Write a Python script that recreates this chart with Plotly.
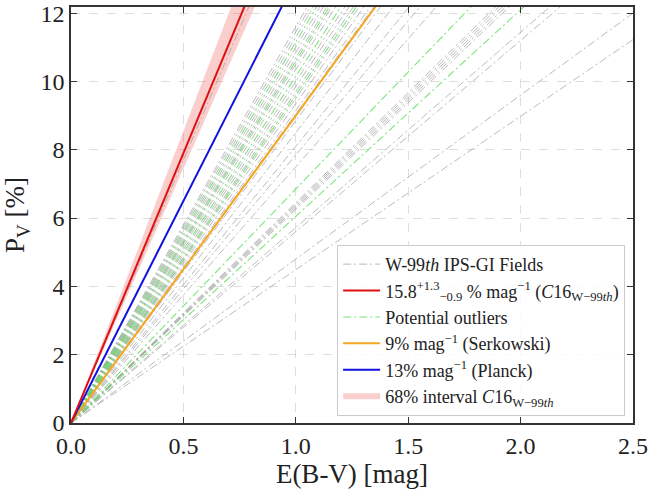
import plotly.graph_objects as go

# ---- data (slopes in % per mag) ----
field_slopes = [15.4, 11.6, 11.45, 11.3, 11.0, 10.85, 10.7, 10.5, 10.35, 10.0, 9.85, 9.7,
                9.5, 9.35, 9.15, 9.05, 8.85, 8.5, 8.1, 7.85, 7.5, 6.45, 6.4, 6.35, 6.3,
                6.25, 5.72, 5.6, 4.8, 4.49]
outlier_slopes = [11.15, 10.6, 10.15, 9.6, 6.85, 6.05]
c16_slope = 15.8
c16_lo = 14.9
c16_hi = 17.1
serkowski_slope = 9.0
planck_slope = 13.0
x_ends = [0.0, 2.5]
x_ticks = [0.0, 0.5, 1.0, 1.5, 2.0, 2.5]
y_ticks = [0, 2, 4, 6, 8, 10, 12]

FONT = "Liberation Serif, 'Times New Roman', 'DejaVu Serif', serif"
fig = go.Figure()

# 68% band
fig.add_trace(go.Scatter(
    x=[x_ends[0], x_ends[1], x_ends[1], x_ends[0]],
    y=[0, c16_hi * x_ends[1], c16_lo * x_ends[1], 0],
    fill="toself", fillcolor="rgba(240,80,80,0.28)", line=dict(width=0),
    mode="none", name="68% interval <i>C</i>16<sub>W−99<i>th</i></sub>", legendrank=6,
    hoverinfo="skip"))

for i, s in enumerate(field_slopes):
    fig.add_trace(go.Scatter(
        x=x_ends, y=[s * x for x in x_ends], mode="lines",
        line=dict(color="rgba(150,150,150,0.65)", width=1, dash="8px,3px,2px,3px"),
        name="W-99<i>th</i> IPS-GI Fields", legendgroup="fields",
        showlegend=(i == 0), legendrank=1))

for i, s in enumerate(outlier_slopes):
    fig.add_trace(go.Scatter(
        x=x_ends, y=[s * x for x in x_ends], mode="lines",
        line=dict(color="rgba(100,225,100,0.85)", width=1.1, dash="8px,3px,2px,3px"),
        name="Potential outliers", legendgroup="outliers",
        showlegend=(i == 0), legendrank=3))

fig.add_trace(go.Scatter(
    x=x_ends, y=[serkowski_slope * x for x in x_ends], mode="lines",
    line=dict(color="#f5a623", width=2),
    name="9% mag<sup>−1</sup> (Serkowski)", legendrank=4))
fig.add_trace(go.Scatter(
    x=x_ends, y=[planck_slope * x for x in x_ends], mode="lines",
    line=dict(color="#1010e0", width=2),
    name="13% mag<sup>−1</sup> (Planck)", legendrank=5))
fig.add_trace(go.Scatter(
    x=x_ends, y=[c16_slope * x for x in x_ends], mode="lines",
    line=dict(color="#e01010", width=2),
    name="15.8<sup>+1.3</sup><sub>−0.9</sub> % mag<sup>−1</sup> (<i>C</i>16<sub>W−99<i>th</i></sub>)",
    legendrank=2))

axis_common = dict(
    showline=True, linecolor="#333333", linewidth=1.5, mirror="ticks",
    ticks="inside", ticklen=6, tickwidth=1.2, tickcolor="#333333",
    showgrid=True, gridcolor="rgba(0,0,0,0.13)", griddash="dash", gridwidth=1,
    zeroline=False, tickfont=dict(family=FONT, size=24, color="#222"),
    automargin=False,
)

fig.update_xaxes(range=[0, 2.5], tickvals=x_ticks, ticktext=[f"{v:.1f}" for v in x_ticks],
                 title=dict(text="E(B-V) [mag]", font=dict(family=FONT, size=27, color="#222"),
                            standoff=4),
                 **axis_common)
fig.update_yaxes(range=[0, 12.18], tickvals=y_ticks, ticktext=[str(v) for v in y_ticks],
                 title=dict(text="P<sub>V</sub> [%]", font=dict(family=FONT, size=27, color="#222"),
                            standoff=8),
                 **axis_common)

fig.update_layout(
    width=649, height=491,
    margin=dict(l=71, r=16, t=7, b=68),
    plot_bgcolor="white", paper_bgcolor="white",
    showlegend=True,
    legend=dict(x=0.986, y=0.017, xanchor="right", yanchor="bottom",
                bgcolor="rgba(255,255,255,0.85)", bordercolor="#cccccc", borderwidth=1,
                font=dict(family=FONT, size=18, color="#222"), itemwidth=37,
                tracegroupgap=0),
)

fig.write_html("out.html", config={"displayModeBar": False},
               post_script="document.body.style.margin='0';")
